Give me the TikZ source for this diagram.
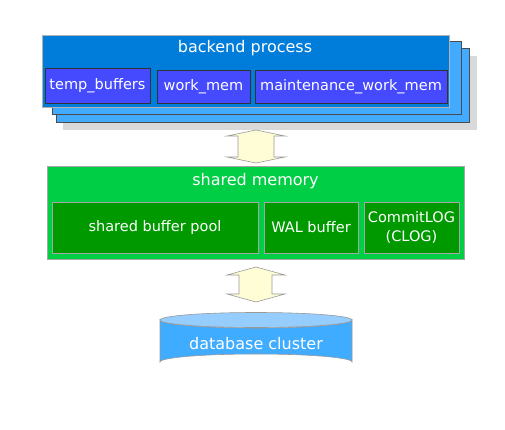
\documentclass[tikz,border=0pt]{standalone}
\usepackage{fontspec}
\setmainfont{DejaVu Sans}
\begin{document}
\begin{tikzpicture}[x=1pt,y=-1pt,
  lbl/.style={text=white, font=\fontsize{14.5}{17}\selectfont, inner sep=0pt},
  tlbl/.style={text=white, font=\fontsize{16}{19}\selectfont, inner sep=0pt},
  slbl/.style={text=white, font=\fontsize{14.5}{18.5}\selectfont, inner sep=0pt, align=center},
  membox/.style={fill=memblue, draw=black!80, line width=0.6pt},
  grnbox/.style={fill=darkgrn, draw=gray!70, line width=0.6pt},
  blockarrow/.style={fill=arrowyel, draw=gray!80, line width=0.6pt}]
\definecolor{frontblue}{RGB}{0,124,218}
\definecolor{backblue}{RGB}{66,170,255}
\definecolor{memblue}{RGB}{70,74,255}
\definecolor{brightgrn}{RGB}{0,206,68}
\definecolor{darkgrn}{RGB}{0,154,0}
\definecolor{arrowyel}{RGB}{255,253,214}
\definecolor{cyltop}{RGB}{150,205,255}
\definecolor{cylbody}{RGB}{64,172,255}
\useasboundingbox (0,0) rectangle (505,430);
% backend process stack
\fill[gray!30] (63,56) rectangle (477,130);
\draw[fill=backblue, draw=black!70, line width=0.6pt] (56,48) rectangle (469,122);
\draw[fill=backblue, draw=black!70, line width=0.6pt] (52,41) rectangle (461,114);
\draw[fill=frontblue, draw=gray!60, line width=0.6pt] (42,35) rectangle (449,107);
\node[tlbl] (bp) at (245,48) {backend process};
\node[membox, minimum width=105pt, minimum height=35pt, inner sep=0pt] (tb) at (97.5,85.5) {};
\node[lbl] at (tb.center) {temp\_buffers};
\node[membox, minimum width=93pt, minimum height=33pt, inner sep=0pt] (wm) at (203.5,86.5) {};
\node[lbl] at (wm.center) {work\_mem};
\node[membox, minimum width=192pt, minimum height=33pt, inner sep=0pt] (mwm) at (351,86.5) {};
\node[lbl] at (mwm.center) {maintenance\_work\_mem};
% upper arrow
\coordinate (a1t) at (256,130);
\coordinate (a1b) at (256,163);
\draw[blockarrow] (a1t) -- (285,136) -- (274,136) -- (274,157) -- (285,157) -- (a1b)
  -- (227,157) -- (238,157) -- (238,136) -- (227,136) -- cycle;
% shared memory
\node[fill=brightgrn, draw=gray!70, line width=0.6pt, minimum width=417pt, minimum height=93pt, inner sep=0pt] (sm) at (255.5,212.5) {};
\node[tlbl] (smt) at (255.5,181) {shared memory};
\node[grnbox, minimum width=206pt, minimum height=51pt, inner sep=0pt] (sbp) at (155,227.5) {};
\node[lbl] at (sbp.center) {shared buffer pool};
\node[grnbox, minimum width=94pt, minimum height=51pt, inner sep=0pt] (wal) at (311,227.5) {};
\node[lbl] at (wal.center) {WAL buffer};
\node[grnbox, minimum width=95pt, minimum height=51pt, inner sep=0pt] (clog) at (411.5,227.5) {};
\node[slbl] at (clog.center) {CommitLOG\\(CLOG)};
% lower arrow
\coordinate (a2t) at (256,267);
\coordinate (a2b) at (256,302);
\draw[blockarrow] (a2t) -- (285,275) -- (272,275) -- (272,294) -- (285,294) -- (a2b)
  -- (227,294) -- (239,294) -- (239,275) -- (227,275) -- cycle;
% database cluster cylinder
\draw[fill=cylbody, draw=gray!80, line width=0.6pt] (160,320) -- (160,362) arc[start angle=180, end angle=360, x radius=96, y radius=8] -- (352,320) arc[start angle=0, end angle=180, x radius=96, y radius=8] -- cycle;
\draw[fill=cyltop, draw=gray!80, line width=0.6pt] (256,320) ellipse[x radius=96, y radius=7.5];
\node[tlbl] (db) at (256,344) {database cluster};
\end{tikzpicture}
\end{document}
